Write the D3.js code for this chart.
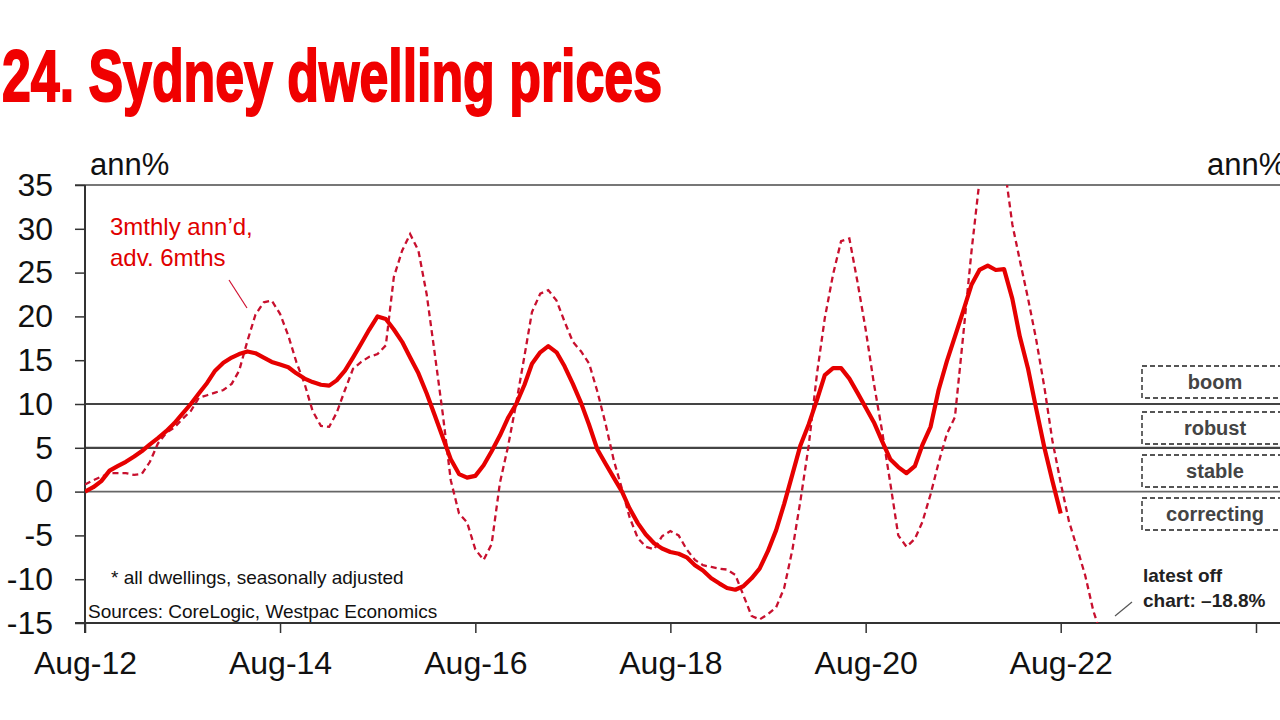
<!DOCTYPE html>
<html>
<head>
<meta charset="utf-8">
<script src="https://cdn.jsdelivr.net/npm/d3@7"></script>
<style>
  body { margin: 0; background: #fff; }
  svg { display: block; font-family: "Liberation Sans", Arial, sans-serif; }
</style>
</head>
<body>
<svg id="chart" width="1280" height="720"></svg>
<script>
// monthly series, both starting Aug-12
var startMonth = new Date(2012, 7, 1);
var sydneyAnnual = [0,0.5,1.2,2.4,2.9,3.4,4.0,4.6,5.4,6.1,6.9,7.8,8.9,10.0,11.2,12.4,13.8,14.7,15.3,15.7,
  16.0,15.8,15.3,14.8,14.5,14.2,13.5,12.9,12.5,12.2,12.1,12.7,13.8,15.3,16.9,18.5,20.0,19.7,18.5,17.1,
  15.3,13.5,11.2,8.8,6.2,3.7,2.0,1.6,1.8,3.0,4.6,6.4,8.4,10.0,12.2,14.6,15.9,16.6,15.9,14.3,
  12.3,10.1,7.6,4.8,3.2,1.6,0.0,-1.9,-3.6,-4.9,-5.9,-6.5,-6.9,-7.1,-7.5,-8.4,-9.0,-9.9,-10.5,-11.0,
  -11.2,-10.8,-9.9,-8.8,-6.8,-4.4,-1.4,2.0,5.3,7.7,10.5,13.3,14.1,14.1,12.9,11.3,9.6,7.9,5.8,3.7,
  2.8,2.1,2.9,5.3,7.4,11.6,14.9,17.7,20.6,23.6,25.3,25.8,25.3,25.4,22.0,17.7,14.0,9.5,5.0,1.2,-2.5];
var sydney3mAdv = [0.8,1.3,1.7,2.1,2.1,2.1,1.9,2.0,3.4,5.5,6.7,7.3,8.3,9.2,10.7,11.0,11.3,11.6,12.3,13.8,
  17.2,20.2,21.6,21.8,20.3,17.8,14.8,12.3,9.2,7.5,7.4,9.0,11.6,14.0,14.8,15.4,15.7,16.7,24.5,27.5,
  29.4,27.5,22.5,16.0,8.9,1.3,-2.5,-3.5,-6.6,-7.8,-6.0,1.0,5.1,10.1,15.5,20.5,22.6,23.0,21.8,19.4,
  17.1,16.0,14.6,11.4,7.8,3.6,0.3,-2.9,-5.3,-6.3,-6.6,-5.1,-4.5,-5.0,-6.6,-7.8,-8.4,-8.6,-8.8,-8.9,
  -9.5,-11.8,-14.2,-14.6,-14.0,-13.2,-11.0,-6.6,-1.0,5.3,13.5,19.8,24.8,28.6,28.9,24.0,18.5,12.3,7.0,1.0,
  -5.0,-6.3,-5.4,-3.5,-0.3,3.3,6.6,8.5,17.8,27.4,35.5,39.0,40.0,37.5,30.5,26.4,22.0,17.4,11.9,5.8,
  1.0,-3.4,-6.4,-9.6,-13.6,-16.5,-18.8];
var yTicks = [35,30,25,20,15,10,5,0,-5,-10,-15];
var xTickDates = [new Date(2012,7,1), new Date(2014,7,1), new Date(2016,7,1), new Date(2018,7,1),
  new Date(2020,7,1), new Date(2022,7,1), new Date(2024,7,1)];
var xLabelEnd = new Date(2022,7,1);   // last labelled tick
var zoneLines = [10, 5, 0];
var zoneLabels = ["boom", "robust", "stable", "correcting"];

var svg = d3.select("#chart");
var plotLeft = 85, plotRight = 1280, plotTop = 185, plotBottom = 623;

var x = d3.scaleTime()
  .domain([startMonth, new Date(2024, 7, 1)])
  .range([plotLeft, 1256]);
var y = d3.scaleLinear().domain([-15, 35]).range([plotBottom, plotTop]);

// title
svg.append("text")
  .attr("x", 2).attr("y", 101)
  .attr("font-size", 72).attr("font-weight", 700)
  .attr("font-family", "'Liberation Sans Narrow', 'Liberation Sans', Arial, sans-serif")
  .attr("textLength", 660).attr("lengthAdjust", "spacingAndGlyphs")
  .attr("fill", "#f00000").attr("stroke", "#f00000").attr("stroke-width", 2)
  .text("24. Sydney dwelling prices");

// unit labels
svg.append("text").attr("x", 90).attr("y", 175).attr("font-size", 31).attr("fill", "#111").text("ann%");
svg.append("text").attr("x", 1207).attr("y", 175).attr("font-size", 31).attr("fill", "#111").text("ann%");

// top border and zone lines
svg.append("line").attr("x1", 75).attr("x2", plotRight).attr("y1", plotTop).attr("y2", plotTop)
  .attr("stroke", "#777").attr("stroke-width", 2);
svg.selectAll(".zone").data(zoneLines).enter().append("line")
  .attr("x1", plotLeft).attr("x2", plotRight)
  .attr("y1", function(d){ return y(d); }).attr("y2", function(d){ return y(d); })
  .attr("stroke", function(d){ return d == 0 ? "#666" : "#444"; })
  .attr("stroke-width", function(d){ return d == 0 ? 1.6 : 2.2; });

// y axis
var yAxis = svg.append("g").attr("transform", "translate(" + plotLeft + ",0)")
  .call(d3.axisLeft(y).tickValues(yTicks).tickSize(10).tickPadding(22)
    .tickFormat(function(d){ return String(d); }));
yAxis.select(".domain").remove();
yAxis.selectAll("line").attr("stroke", "#333").attr("stroke-width", 1.5);
yAxis.selectAll("text").attr("font-size", 32).attr("fill", "#111")
  .attr("font-family", "'Liberation Sans', Arial, sans-serif");
svg.append("line").attr("x1", plotLeft).attr("x2", plotLeft).attr("y1", plotTop).attr("y2", plotBottom + 10)
  .attr("stroke", "#333").attr("stroke-width", 2);

// x axis
var fmt = d3.timeFormat("%b-%y");
var xAxis = svg.append("g").attr("transform", "translate(0," + plotBottom + ")")
  .call(d3.axisBottom(x).tickValues(xTickDates)
    .tickFormat(function(d){ return d > xLabelEnd ? "" : fmt(d); })
    .tickSize(10).tickPadding(18));
xAxis.select(".domain").remove();
xAxis.selectAll("line").attr("stroke", "#333").attr("stroke-width", 1.5);
xAxis.selectAll("text").attr("font-size", 32).attr("fill", "#111")
  .attr("font-family", "'Liberation Sans', Arial, sans-serif");
svg.append("line").attr("x1", 75).attr("x2", plotRight).attr("y1", plotBottom).attr("y2", plotBottom)
  .attr("stroke", "#333").attr("stroke-width", 2);

// lines
svg.append("clipPath").attr("id", "plotclip").append("rect")
  .attr("x", plotLeft).attr("y", plotTop).attr("width", plotRight - plotLeft).attr("height", plotBottom - plotTop);

function monthSeries(vals){
  return vals.map(function(v, i){ return { date: d3.timeMonth.offset(startMonth, i), value: v }; });
}
var line = d3.line().x(function(d){ return x(d.date); }).y(function(d){ return y(d.value); });

svg.append("path").datum(monthSeries(sydney3mAdv))
  .attr("clip-path", "url(#plotclip)")
  .attr("d", line).attr("fill", "none")
  .attr("stroke", "#c8102e").attr("stroke-width", 2.3).attr("stroke-dasharray", "6,4");
svg.append("path").datum(monthSeries(sydneyAnnual))
  .attr("clip-path", "url(#plotclip)")
  .attr("d", line).attr("fill", "none")
  .attr("stroke", "#e60000").attr("stroke-width", 4.2).attr("stroke-linejoin", "round");

// zone legend boxes
var boxTops = [366, 412, 455, 498];
zoneLabels.forEach(function(lbl, i){
  svg.append("rect").attr("x", 1142).attr("y", boxTops[i]).attr("width", 160).attr("height", 32)
    .attr("fill", "none").attr("stroke", "#555").attr("stroke-width", 1.8).attr("stroke-dasharray", "5,3");
  svg.append("text").attr("x", 1215).attr("y", boxTops[i] + 23)
    .attr("text-anchor", "middle").attr("font-size", 20).attr("font-weight", 700).attr("fill", "#444")
    .text(lbl);
});

// annotations
svg.append("text").attr("x", 110).attr("y", 235).attr("font-size", 24).attr("fill", "#e00000").text("3mthly ann\u2019d,");
svg.append("text").attr("x", 110).attr("y", 266).attr("font-size", 24).attr("fill", "#e00000").text("adv. 6mths");
svg.append("line").attr("x1", 229).attr("y1", 280).attr("x2", 247).attr("y2", 308)
  .attr("stroke", "#d01030").attr("stroke-width", 1.2);

svg.append("text").attr("x", 111).attr("y", 584).attr("font-size", 19).attr("fill", "#111")
  .text("* all dwellings, seasonally adjusted");
svg.append("text").attr("x", 88).attr("y", 618).attr("font-size", 19).attr("fill", "#111")
  .text("Sources: CoreLogic, Westpac Economics");

svg.append("text").attr("x", 1143).attr("y", 582).attr("font-size", 19).attr("font-weight", 700).attr("fill", "#222")
  .text("latest off");
svg.append("text").attr("x", 1143).attr("y", 607).attr("font-size", 19).attr("font-weight", 700).attr("fill", "#222")
  .text("chart: \u201318.8%");
svg.append("line").attr("x1", 1115).attr("y1", 616).attr("x2", 1132).attr("y2", 602)
  .attr("stroke", "#555").attr("stroke-width", 1.2);
</script>
</body>
</html>
